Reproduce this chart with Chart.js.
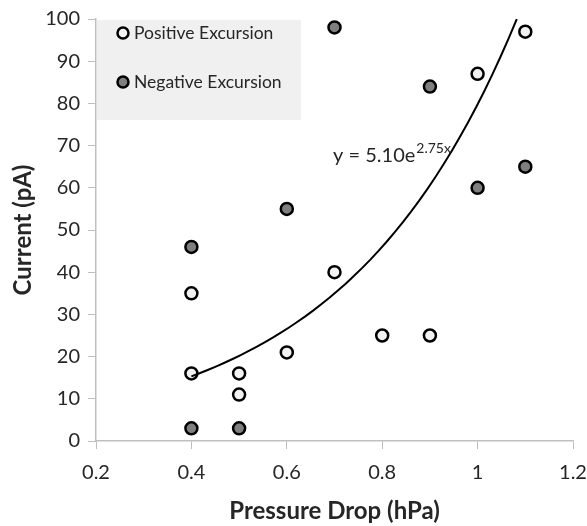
<!DOCTYPE html>
<html>
<head>
<meta charset="utf-8">
<title>Current vs Pressure Drop</title>
<script src="https://cdn.jsdelivr.net/npm/chart.js@4.4.1/dist/chart.umd.min.js"></script>
<style>
    html, body { margin: 0; padding: 0; background: #fff; }
    #wrap { width: 587px; height: 526px; position: relative; }
</style>
</head>
<body>
<div id="wrap"><canvas id="chartScatter"></canvas></div>
<script>
// --- data ---
const positiveX = [0.4, 0.4, 0.5, 0.5, 0.6, 0.7, 0.8, 0.9, 1.0, 1.1];
const positiveY = [35, 16, 16, 11, 21, 40, 25, 25, 87, 97];
const negativeX = [0.4, 0.4, 0.5, 0.6, 0.7, 0.9, 1.0, 1.1];
const negativeY = [46, 3, 3, 55, 98, 84, 60, 65];

// exponential trendline y = A * e^(B x), as printed on the chart
const FIT_A = 5.10;
const FIT_B = 2.75;
const FIT_FROM = 0.4;

const X_MIN = 0.2, X_MAX = 1.2, X_STEP = 0.2;
const Y_MIN = 0, Y_MAX = 100, Y_STEP = 10;

const FONT = 'Lato, "Open Sans", sans-serif';
const TEXT = '#262626';
const AXIS = '#bfbfbf';

function toPoints(xs, ys) {
    return xs.map((x, i) => ({ x: x, y: ys[i] }));
}

// sample the fitted curve until it leaves the plot at the top
function trendPoints() {
    const xEnd = Math.log(Y_MAX / FIT_A) / FIT_B;
    const pts = [];
    const n = 40;
    for (let i = 0; i <= n; i++) {
        const x = FIT_FROM + (xEnd - FIT_FROM) * i / n;
        pts.push({ x: x, y: FIT_A * Math.exp(FIT_B * x) });
    }
    return pts;
}

// legend box in the upper left of the plot
const legendBox = {
    id: 'legendBox',
    beforeDatasetsDraw(chart) {
        const { ctx, chartArea } = chart;
        const left = chartArea.left + 1, top = chartArea.top + 1;
        ctx.save();
        ctx.fillStyle = '#f0f0f0';
        ctx.fillRect(left, top, 204, 100);
        const items = chart.data.datasets.filter(d => d.showInBox);
        items.forEach((d, i) => {
            const cy = top + 13 + i * 49;
            const cx = left + 26;
            ctx.beginPath();
            ctx.arc(cx, cy, 5.5, 0, Math.PI * 2);
            ctx.fillStyle = d.backgroundColor;
            ctx.fill();
            ctx.lineWidth = 2.5;
            ctx.strokeStyle = d.borderColor;
            ctx.stroke();
            ctx.fillStyle = TEXT;
            ctx.font = '17.5px ' + FONT;
            ctx.textBaseline = 'middle';
            ctx.fillText(d.label, cx + 11, cy);
        });
        ctx.restore();
    }
};

// trendline equation label
const equationLabel = {
    id: 'equationLabel',
    afterDatasetsDraw(chart) {
        const { ctx, scales } = chart;
        const x = scales.x.getPixelForValue(0.697);
        const y = scales.y.getPixelForValue(66.0);
        ctx.save();
        ctx.fillStyle = TEXT;
        ctx.textBaseline = 'alphabetic';
        ctx.font = '20px ' + FONT;
        const main = 'y = ' + FIT_A.toFixed(2) + 'e';
        ctx.fillText(main, x, y);
        const w = ctx.measureText(main).width;
        ctx.font = '14px ' + FONT;
        ctx.fillText(FIT_B.toFixed(2) + 'x', x + w + 1, y - 9);
        ctx.restore();
    }
};

function initChart() {
    const ctx = document.getElementById('chartScatter').getContext('2d');
    new Chart(ctx, {
        type: 'scatter',
        data: {
            datasets: [
                {
                    label: 'Trend',
                    type: 'line',
                    data: trendPoints(),
                    borderColor: '#000',
                    borderWidth: 2,
                    pointRadius: 0,
                    fill: false,
                    tension: 0,
                    order: 0
                },
                {
                    label: 'Positive Excursion',
                    showInBox: true,
                    data: toPoints(positiveX, positiveY),
                    backgroundColor: '#f2f2f2',
                    borderColor: '#000',
                    borderWidth: 2.5,
                    pointRadius: 6,
                    order: 2
                },
                {
                    label: 'Negative Excursion',
                    showInBox: true,
                    data: toPoints(negativeX, negativeY),
                    backgroundColor: '#7f7f7f',
                    borderColor: '#000',
                    borderWidth: 2.5,
                    pointRadius: 6,
                    order: 1
                }
            ]
        },
        options: {
            responsive: true,
            maintainAspectRatio: false,
            animation: false,
            layout: { padding: { top: 19, right: 14, left: 0, bottom: 0 } },
            plugins: {
                legend: { display: false },
                tooltip: { enabled: false }
            },
            scales: {
                x: {
                    type: 'linear',
                    min: X_MIN, max: X_MAX,
                    afterFit: s => {
                        s.height = 85;
                        s.paddingLeft = 0;
                        s.paddingRight = 0;
                    },
                    ticks: {
                        stepSize: X_STEP,
                        color: TEXT,
                        font: { family: FONT, size: 20 },
                        padding: 12,
                        callback: v => String(Number(v.toFixed(1)))
                    },
                    grid: { display: true, drawOnChartArea: false, drawTicks: true, tickLength: 8, color: AXIS },
                    border: { color: AXIS, width: 1.5 },
                    title: {
                        display: true,
                        text: 'Pressure Drop (hPa)',
                        color: TEXT,
                        font: { family: FONT, size: 24, weight: 'bold' },
                        padding: { top: 0, bottom: 0 }
                    }
                },
                y: {
                    min: Y_MIN, max: Y_MAX,
                    afterFit: s => {
                        s.width = 96;
                        s.paddingTop = 0;
                        s.paddingBottom = 0;
                    },
                    ticks: {
                        stepSize: Y_STEP,
                        color: TEXT,
                        font: { family: FONT, size: 20 },
                        padding: 8
                    },
                    grid: { display: true, drawOnChartArea: false, drawTicks: true, tickLength: 8, color: AXIS },
                    border: { color: AXIS, width: 1.5 },
                    title: {
                        display: true,
                        text: 'Current (pA)',
                        color: TEXT,
                        font: { family: FONT, size: 24, weight: 'bold' },
                        padding: { top: 9, bottom: 0 }
                    }
                }
            }
        },
        plugins: [legendBox, equationLabel]
    });
}

document.addEventListener('DOMContentLoaded', initChart);
</script>
</body>
</html>
